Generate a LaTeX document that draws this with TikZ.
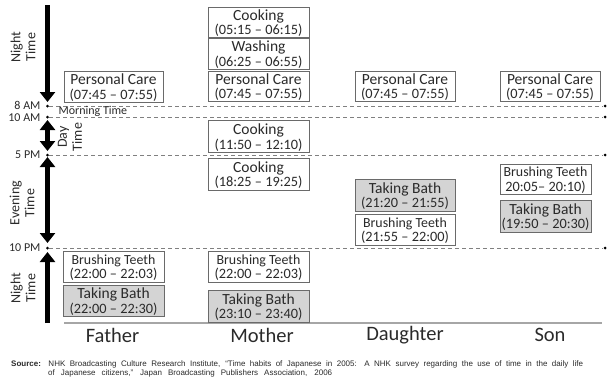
\documentclass[tikz,border=0pt]{standalone}
\usepackage{fontspec}
\setmainfont{Carlito}
\newfontfamily\srcfont{Liberation Sans}
\usetikzlibrary{arrows.meta}
\definecolor{boxline}{HTML}{6A6A6A}
\definecolor{txt}{HTML}{2A2A2A}
\definecolor{bathfill}{HTML}{D4D4D4}
\definecolor{dashgray}{HTML}{808080}
\definecolor{axisgray}{HTML}{A6A6A6}
\newcommand{\acttime}[1]{{\fontsize{14.3}{14.5}\selectfont #1}}
\newcommand{\brushtitle}{{\fontsize{13.9}{14.5}\selectfont Brushing Teeth}}
\begin{document}
\begin{tikzpicture}[x=1pt,y=-1pt,
  >={Triangle[width=15pt,length=10pt]},
  actbox/.style={draw=boxline, fill=white, line width=0.9pt, minimum width=100pt,
    minimum height=31pt, inner sep=0pt, align=center, text=txt, text depth=0pt,
    font=\fontsize{15.5}{14.5}\selectfont},
  bathbox/.style={actbox, fill=bathfill},
  period/.style={line width=5.5pt, black},
  perlabel/.style={rotate=90, align=center, text=txt, font=\fontsize{14}{15}\selectfont},
  timelabel/.style={anchor=east, text=txt, font=\fontsize{12}{12}\selectfont},
  tick/.style={circle, fill=black, inner sep=0pt, minimum size=3pt},
  timeline/.style={dashgray, line width=0.9pt, dash pattern=on 4pt off 3pt},
  collabel/.style={text=txt, font=\fontsize{20.5}{22}\selectfont}
]
\useasboundingbox (0,0) rectangle (607,383);

% time ticks
\node[tick] (l8)  at (47.5,106) {};
\node[tick] (l10) at (47.5,117) {};
\node[tick] (l5)  at (47.5,155) {};
\node[tick] (l22) at (47.5,248) {};
\node[tick] (r8)  at (605,106) {};
\node[tick] (r10) at (605,117) {};
\node[tick] (r5)  at (605,155) {};
\node[tick] (r22) at (605,248) {};

\draw[timeline] (l8) -- (r8);
\draw[timeline] (l10) -- (r10);
\draw[timeline] (l5) -- (r5);
\draw[timeline] (l22) -- (r22);

\node[timelabel] (t8)  at (44,105.5) {8 AM};
\node[timelabel] (t10) at (44,117.5) {10 AM};
\node[timelabel] (t5)  at (44,155) {5 PM};
\node[timelabel] (t22) at (44,248) {10 PM};
\node[anchor=west, text=txt, font=\fontsize{12}{13}\selectfont] (morn) at (55,111.5) {Morning Time};

% period arrows
\coordinate (a1s) at (47.5,5);   \coordinate (a1e) at (47.5,102);
\coordinate (a2s) at (47.5,120); \coordinate (a2e) at (47.5,151);
\coordinate (a3s) at (47.5,157); \coordinate (a3e) at (47.5,243);
\coordinate (a4s) at (47.5,323); \coordinate (a4e) at (47.5,252);
\draw[period,->] (a1s) -- (a1e);
\draw[period,<->] (a2s) -- (a2e);
\draw[period,<->] (a3s) -- (a3e);
\draw[period,->] (a4s) -- (a4e);

\node[perlabel] (p1) at (23,47) {Night\\Time};
\node[perlabel] (p2) at (70,137) {Day\\Time};
\node[perlabel] (p3) at (22,203) {Evening\\Time};
\node[perlabel] (p4) at (23,288) {Night\\Time};

% axis
\coordinate (axl) at (64,323);
\coordinate (axr) at (602,323);
\draw[axisgray, line width=1.5pt] (axl) -- (axr);

% Father
\node[actbox, minimum width=99pt] (fpc) at (113.5,86.5) {Personal Care\\\acttime{(07:45 – 07:55)}};
\node[actbox, minimum width=101pt] (fbt) at (113.5,266.5) {\brushtitle\\\acttime{(22:00 – 22:03)}};
\node[bathbox, minimum width=101pt] (ftb) at (113.5,300.5) {Taking Bath\\\acttime{(22:00 – 22:30)}};

% Mother
\node[actbox, minimum width=101pt, minimum height=30pt] (mc1) at (258.5,22) {Cooking\\\acttime{(05:15 – 06:15)}};
\node[actbox, minimum width=101pt] (mw) at (258.5,53.5) {Washing\\\acttime{(06:25 – 06:55)}};
\node[actbox, minimum width=101pt, minimum height=30pt] (mpc) at (258.5,86) {Personal Care\\\acttime{(07:45 – 07:55)}};
\node[actbox, minimum width=101pt, minimum height=32pt] (mc2) at (258.5,136.5) {Cooking\\\acttime{(11:50 – 12:10)}};
\node[actbox, minimum width=101pt, minimum height=32pt] (mc3) at (258.5,174) {Cooking\\\acttime{(18:25 – 19:25)}};
\node[actbox, minimum width=101pt] (mbt) at (258.5,266.5) {\brushtitle\\\acttime{(22:00 – 22:03)}};
\node[bathbox, minimum width=101pt, minimum height=32pt] (mtb) at (258.5,306) {Taking Bath\\\acttime{(23:10 – 23:40)}};

% Daughter
\node[actbox, minimum height=30pt] (dpc) at (405,86) {Personal Care\\\acttime{(07:45 – 07:55)}};
\node[bathbox, minimum height=32pt] (dtb) at (405,195) {Taking Bath\\\acttime{(21:20 – 21:55)}};
\node[actbox] (dbt) at (405,229.5) {\brushtitle\\\acttime{(21:55 – 22:00)}};

% Son
\node[actbox, minimum height=30pt] (spc) at (550,86) {Personal Care\\\acttime{(07:45 – 07:55)}};
\node[actbox, minimum width=91pt, minimum height=30pt] (sbt) at (545.5,179) {\brushtitle\\\acttime{20:05– 20:10)}};
\node[bathbox, minimum width=91pt, minimum height=32pt] (stb) at (545.5,216) {Taking Bath\\\acttime{(19:50 – 20:30)}};

% column labels
\node[collabel] (cf) at (112.5,335) {Father};
\node[collabel] (cm) at (262,335) {Mother};
\node[collabel] (cd) at (405,335) {Daughter};
\node[collabel] (cs) at (550,335) {Son};

% source
\node[anchor=west, inner sep=0pt, text=txt, font=\srcfont\fontsize{8}{9}\selectfont] (src1) at (11,364)
  {\makebox[572pt][s]{\textbf{Source:} NHK Broadcasting Culture Research Institute, “Time habits of Japanese in 2005: A NHK survey regarding the use of time in the daily life}};
\node[anchor=west, inner sep=0pt, text=txt, font=\srcfont\fontsize{8}{9}\selectfont] (src2) at (48,373.5)
  {\makebox[284pt][s]{of Japanese citizens,” Japan Broadcasting Publishers Association, 2006}};
\end{tikzpicture}
\end{document}
